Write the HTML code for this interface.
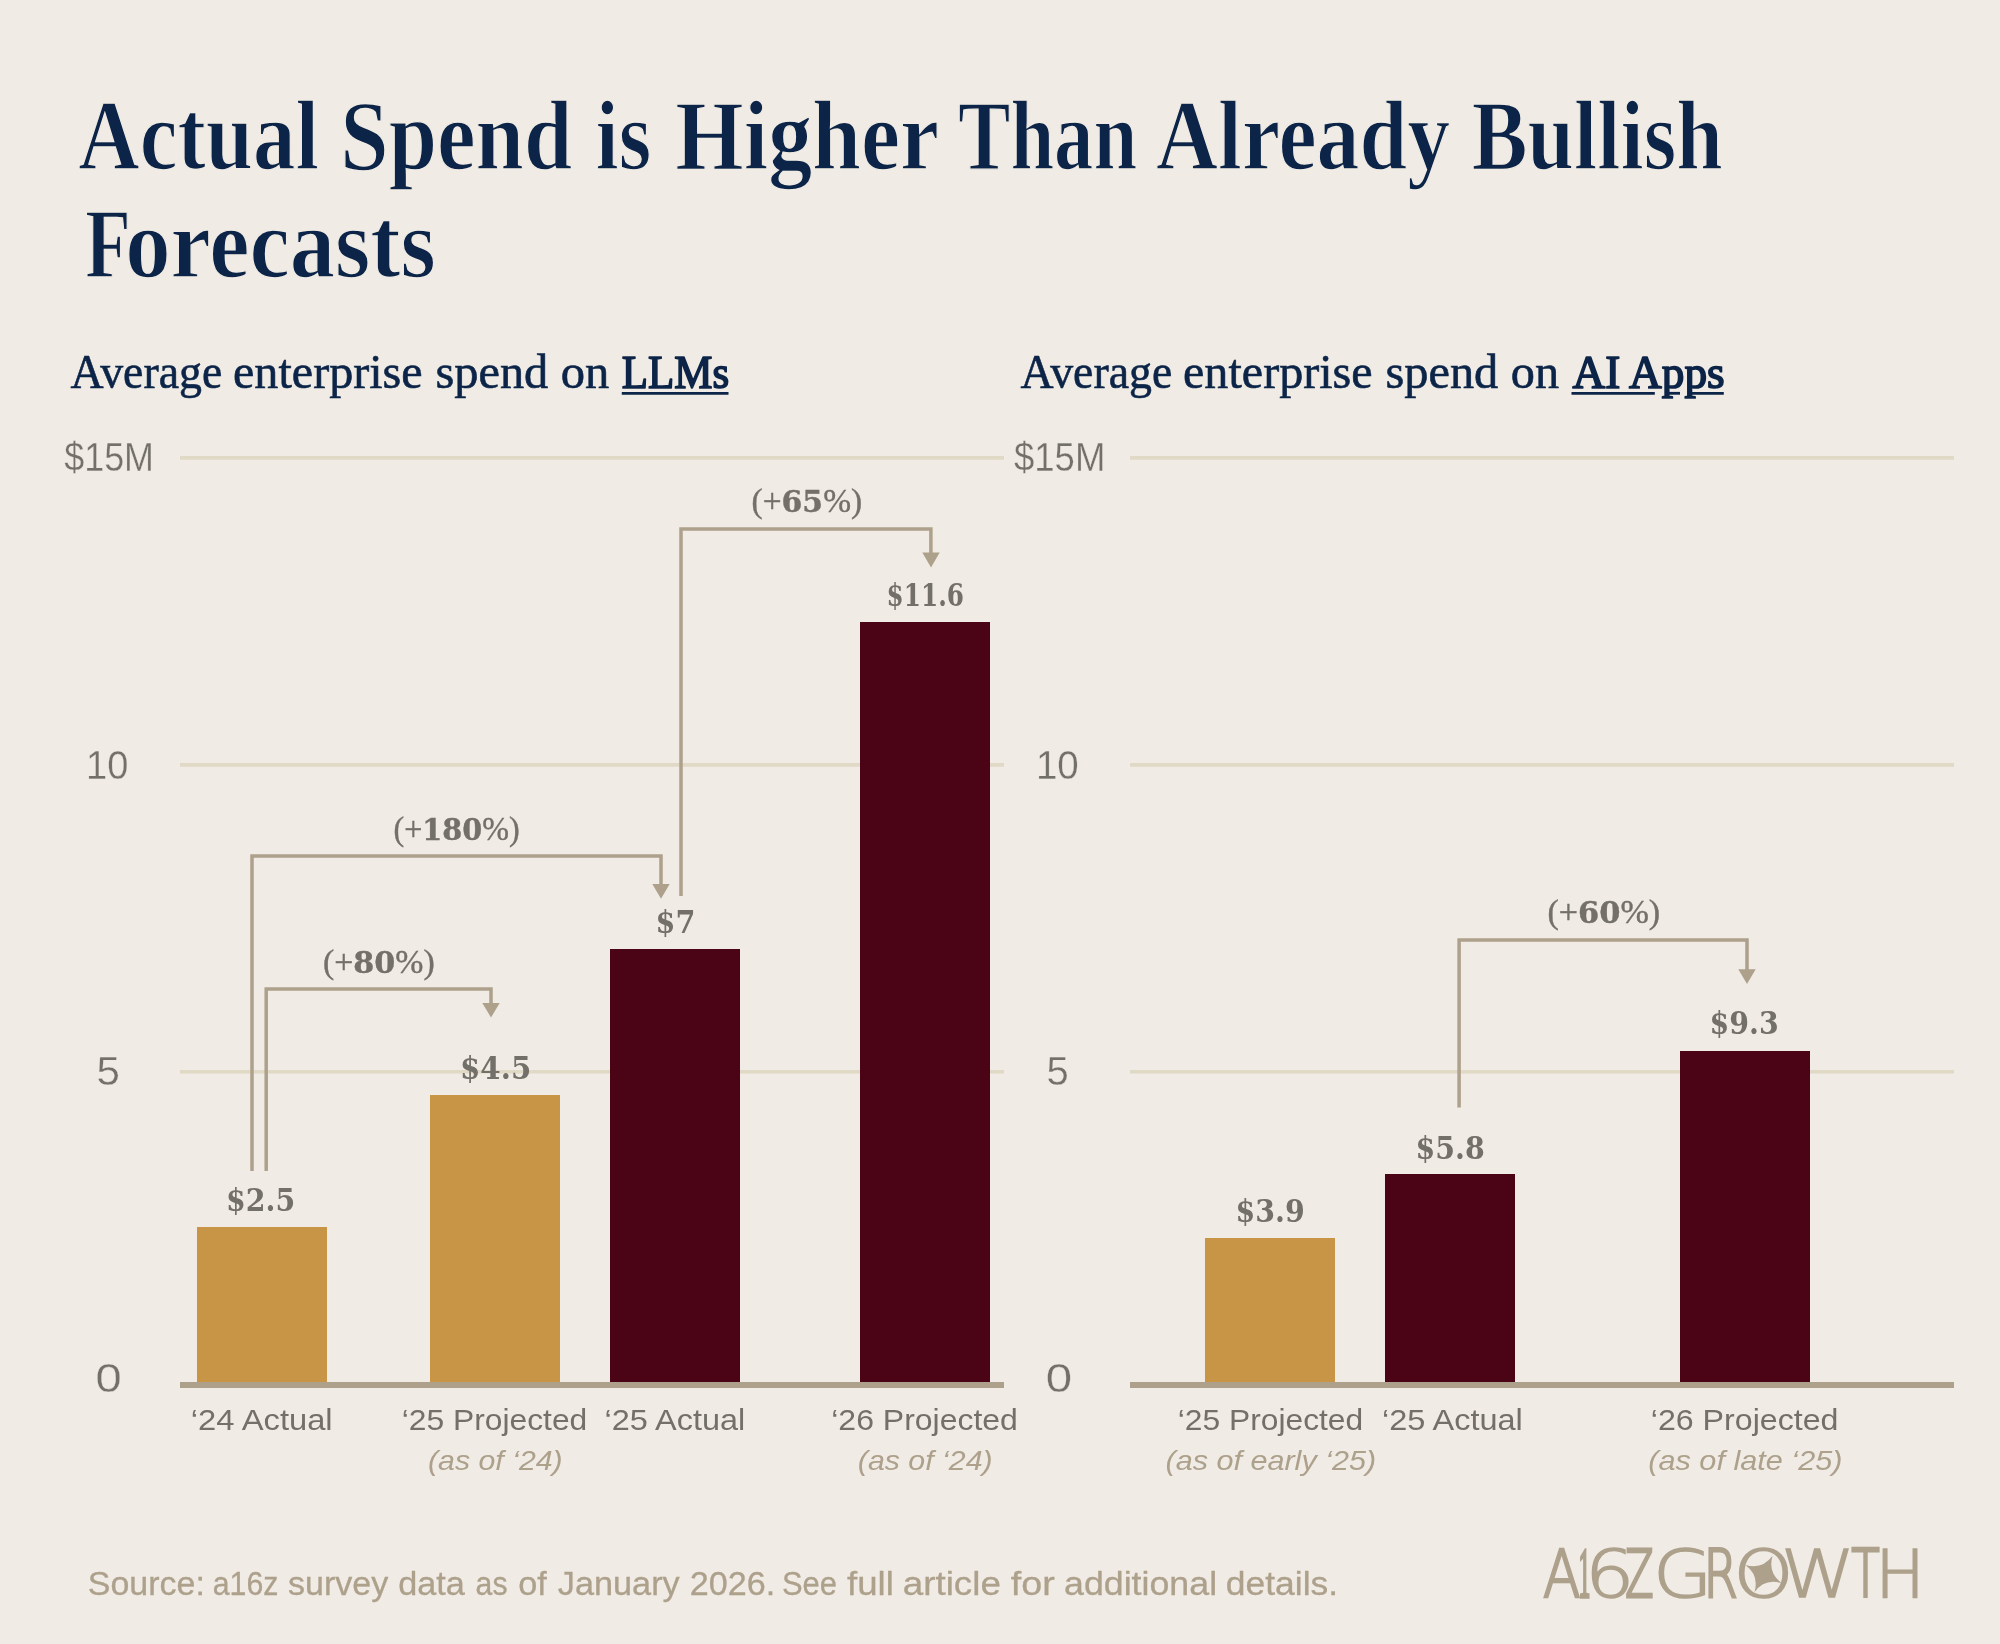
<!DOCTYPE html>
<html lang="en">
<head>
<meta charset="utf-8">
<title>Actual Spend is Higher Than Already Bullish Forecasts</title>
<style>
  html, body { margin: 0; padding: 0; background: #f0ebe4; }
  body { width: 2000px; height: 1644px; overflow: hidden; }
  svg { display: block; will-change: transform; }
  text { white-space: pre; }
  .title { font-family: "Liberation Serif", serif; font-weight: 700; font-size: 100px; fill: #0b2447; stroke: #f0ebe4; stroke-width: 1.4; }
  .sub { font-family: "Liberation Serif", serif; font-size: 47.5px; fill: #0b2447; stroke: #0b2447; stroke-width: 0.6; }
  .subb { font-family: "Liberation Serif", serif; font-size: 46.5px; fill: #0b2447; stroke: #0b2447; stroke-width: 1.7; stroke-linejoin: round; }
  .ytick { font-family: "Liberation Sans", sans-serif; font-size: 40px; fill: #737069; stroke: #f0ebe4; stroke-width: 0.3; }
  .val { font-family: "DejaVu Serif", "Liberation Serif", serif; font-weight: 700; font-size: 31px; fill: #737069; }
  .pct { font-family: "Liberation Serif", serif; font-size: 33px; fill: #737069; stroke: #737069; stroke-width: 0.4; }
  .xl { font-family: "Liberation Sans", sans-serif; font-size: 29.5px; fill: #737069; }
  .xs { font-family: "Liberation Sans", sans-serif; font-style: italic; font-size: 28px; fill: #ada18c; }
  .src { font-family: "Liberation Sans", sans-serif; font-size: 33px; fill: #ada18c; stroke: #ada18c; stroke-width: 0.3; }
  .logo { font-family: "DejaVu Sans", "Liberation Sans", sans-serif; font-weight: 200; font-size: 65.5px; fill: #ada18c; stroke: #ada18c; stroke-linejoin: miter; vector-effect: non-scaling-stroke; }
  .logo1 { font-family: "Liberation Serif", serif; font-size: 72px; fill: #ada18c; stroke: #ada18c; vector-effect: non-scaling-stroke; }
  .grid { stroke: #e0d9c6; stroke-width: 3.6; }
  .axis { stroke: #ada18c; stroke-width: 6; }
  .arr { stroke: #ada18c; stroke-width: 3.5; fill: none; }
  .head { fill: #ada18c; }
  .uline { stroke: #0b2447; stroke-width: 2.8; }
  .gold { fill: #c79545; }
  .maroon { fill: #4a0416; }
  .star { fill: #ada18c; }
</style>
</head>
<body>
<svg width="2000" height="1644">
  <rect x="0" y="0" width="2000" height="1644" fill="#f0ebe4"/>

  <!-- TITLE -->
  <g id="title">
    <text class="title" y="168.7"><tspan x="78.3" textLength="240.82" lengthAdjust="spacingAndGlyphs">Actual</tspan> <tspan x="340.31" textLength="231.93" lengthAdjust="spacingAndGlyphs">Spend</tspan> <tspan x="595.6" textLength="55.77" lengthAdjust="spacingAndGlyphs">is</tspan> <tspan x="675.31" textLength="262.23" lengthAdjust="spacingAndGlyphs">Higher</tspan> <tspan x="958.0" textLength="179.1" lengthAdjust="spacingAndGlyphs">Than</tspan> <tspan x="1156.0" textLength="294.21" lengthAdjust="spacingAndGlyphs">Already</tspan> <tspan x="1471.8" textLength="251.02" lengthAdjust="spacingAndGlyphs">Bullish</tspan></text>
    <text class="title" y="277.2"><tspan x="85.19" textLength="45.49" lengthAdjust="spacingAndGlyphs">F</tspan><tspan x="125.19" textLength="310.69" lengthAdjust="spacingAndGlyphs">orecasts</tspan></text>
  </g>

  <!-- SUBTITLES -->
  <g id="subtitles">
    <text class="sub" y="388.1"><tspan x="70.5" textLength="151.8" lengthAdjust="spacingAndGlyphs">Average</tspan> <tspan x="233.0" textLength="189.7" lengthAdjust="spacingAndGlyphs">enterprise</tspan> <tspan x="435.5" textLength="112.74" lengthAdjust="spacingAndGlyphs">spend</tspan> <tspan x="560.8" textLength="48.53" lengthAdjust="spacingAndGlyphs">on</tspan></text>
    <text class="subb" x="621.8" y="388.1" textLength="107.33" lengthAdjust="spacingAndGlyphs">LLMs</text>
    <text class="sub" y="388.1"><tspan x="1020.5" textLength="151.8" lengthAdjust="spacingAndGlyphs">Average</tspan> <tspan x="1183.0" textLength="189.7" lengthAdjust="spacingAndGlyphs">enterprise</tspan> <tspan x="1385.5" textLength="112.74" lengthAdjust="spacingAndGlyphs">spend</tspan> <tspan x="1510.8" textLength="48.22" lengthAdjust="spacingAndGlyphs">on</tspan></text>
    <text class="subb" x="1572.5" y="388.1" textLength="152.23" lengthAdjust="spacingAndGlyphs">AI Apps</text>
    <line class="uline" x1="621.8" x2="728.5" y1="393.3" y2="393.3"/>
    <line class="uline" x1="1571.5" x2="1654.8" y1="393.3" y2="393.3"/>
    <line class="uline" x1="1666" x2="1680" y1="393.3" y2="393.3"/>
    <line class="uline" x1="1691.6" x2="1723.8" y1="393.3" y2="393.3"/>
  </g>

  <!-- GRID LINES -->
  <g id="grid">
    <line class="grid" x1="180" x2="1004" y1="457.9" y2="457.9"/>
    <line class="grid" x1="180" x2="1004" y1="764.9" y2="764.9"/>
    <line class="grid" x1="180" x2="1004" y1="1071.8" y2="1071.8"/>
    <line class="grid" x1="1130" x2="1954" y1="457.9" y2="457.9"/>
    <line class="grid" x1="1130" x2="1954" y1="764.9" y2="764.9"/>
    <line class="grid" x1="1130" x2="1954" y1="1071.8" y2="1071.8"/>
  </g>

  <!-- Y TICKS -->
  <g id="yticks">
    <text class="ytick" x="64.25" y="471" textLength="89.75" lengthAdjust="spacingAndGlyphs">$15M</text>
    <text class="ytick" x="86.0" y="778.5" textLength="42.27" lengthAdjust="spacingAndGlyphs">10</text>
    <text class="ytick" x="96.5" y="1085.3" textLength="23.42" lengthAdjust="spacingAndGlyphs">5</text>
    <text class="ytick" x="95.45" y="1392" textLength="26.18" lengthAdjust="spacingAndGlyphs">0</text>
    <text class="ytick" x="1014.0" y="471" textLength="91.3" lengthAdjust="spacingAndGlyphs">$15M</text>
    <text class="ytick" x="1035.96" y="778.5" textLength="42.84" lengthAdjust="spacingAndGlyphs">10</text>
    <text class="ytick" x="1046.5" y="1085.3" textLength="22.25" lengthAdjust="spacingAndGlyphs">5</text>
    <text class="ytick" x="1045.69" y="1392" textLength="26.35" lengthAdjust="spacingAndGlyphs">0</text>
  </g>

  <!-- BARS: LLMs -->
  <g id="left-bars">
    <rect class="gold"   x="197" y="1227" width="130" height="157"/>
    <rect class="gold"   x="430" y="1095" width="130" height="289"/>
    <rect class="maroon" x="610" y="949"  width="130" height="435"/>
    <rect class="maroon" x="860" y="622"  width="130" height="762"/>
  </g>

  <!-- BARS: AI Apps -->
  <g id="right-bars">
    <rect class="gold"   x="1205" y="1238" width="130" height="146"/>
    <rect class="maroon" x="1385" y="1174" width="130" height="210"/>
    <rect class="maroon" x="1680" y="1051" width="130" height="333"/>
  </g>

  <!-- AXES -->
  <line class="axis" x1="180" x2="1004" y1="1385" y2="1385"/>
  <line class="axis" x1="1130" x2="1954" y1="1385" y2="1385"/>

  <!-- GROWTH ARROWS -->
  <g id="arrows">
    <path class="arr" d="M252 1171 V856 H661 V886"/>
    <path class="head" d="M652.3 883.9 H669.7 L661 898.7 Z"/>
    <path class="arr" d="M266.2 1171 V988.9 H491 V1005"/>
    <path class="head" d="M482.3 1003 H499.7 L491 1017.6 Z"/>
    <path class="arr" d="M681 896 V529 H930.9 V555"/>
    <path class="head" d="M922.3 552.5 H939.7 L931 567.4 Z"/>
    <path class="arr" d="M1459.1 1107.5 V940 H1747 V972"/>
    <path class="head" d="M1738.3 969.3 H1755.7 L1747 984.1 Z"/>
  </g>

  <!-- VALUE LABELS -->
  <g id="values">
    <text class="val" x="225.99" y="1211" textLength="69.35" lengthAdjust="spacingAndGlyphs">$2.5</text>
    <text class="val" x="460.0" y="1079" textLength="71.26" lengthAdjust="spacingAndGlyphs">$4.5</text>
    <text class="val" x="655.6" y="933" textLength="39.82" lengthAdjust="spacingAndGlyphs">$7</text>
    <text class="val" x="886.5" y="606" textLength="77.47" lengthAdjust="spacingAndGlyphs">$11.6</text>
    <text class="val" x="1235.5" y="1221.5" textLength="69.22" lengthAdjust="spacingAndGlyphs">$3.9</text>
    <text class="val" x="1415.5" y="1158.5" textLength="69.22" lengthAdjust="spacingAndGlyphs">$5.8</text>
    <text class="val" x="1709.5" y="1033.5" textLength="69.22" lengthAdjust="spacingAndGlyphs">$9.3</text>
  </g>

  <!-- PERCENT LABELS -->
  <g id="pcts">
    <text class="pct" x="751.5" y="511.8" textLength="110.69" lengthAdjust="spacingAndGlyphs">(+<tspan font-family="DejaVu Serif, Liberation Serif, serif" font-weight="700" font-size="29.5">65</tspan>%)</text>
    <text class="pct" x="393.5" y="840.2" textLength="126.14" lengthAdjust="spacingAndGlyphs">(+<tspan font-family="DejaVu Serif, Liberation Serif, serif" font-weight="700" font-size="29.5">180</tspan>%)</text>
    <text class="pct" x="323.0" y="972.8" textLength="111.71" lengthAdjust="spacingAndGlyphs">(+<tspan font-family="DejaVu Serif, Liberation Serif, serif" font-weight="700" font-size="29.5">80</tspan>%)</text>
    <text class="pct" x="1547.5" y="922.5" textLength="112.73" lengthAdjust="spacingAndGlyphs">(+<tspan font-family="DejaVu Serif, Liberation Serif, serif" font-weight="700" font-size="29.5">60</tspan>%)</text>
  </g>

  <!-- X LABELS -->
  <g id="xlabels">
    <text class="xl" x="190.74" y="1430" textLength="141.92" lengthAdjust="spacingAndGlyphs">‘24 Actual</text>
    <text class="xl" x="401.8" y="1430" textLength="185.49" lengthAdjust="spacingAndGlyphs">‘25 Projected</text>
    <text class="xs" x="428.0" y="1469.5" textLength="134.7" lengthAdjust="spacingAndGlyphs">(as of ‘24)</text>
    <text class="xl" x="604.49" y="1430" textLength="140.74" lengthAdjust="spacingAndGlyphs">‘25 Actual</text>
    <text class="xl" x="831.25" y="1430" textLength="186.65" lengthAdjust="spacingAndGlyphs">‘26 Projected</text>
    <text class="xs" x="857.8" y="1469.5" textLength="134.81" lengthAdjust="spacingAndGlyphs">(as of ‘24)</text>
    <text class="xl" x="1177.8" y="1430" textLength="185.38" lengthAdjust="spacingAndGlyphs">‘25 Projected</text>
    <text class="xs" x="1165.5" y="1469.5" textLength="210.65" lengthAdjust="spacingAndGlyphs">(as of early ‘25)</text>
    <text class="xl" x="1382.0" y="1430" textLength="140.83" lengthAdjust="spacingAndGlyphs">‘25 Actual</text>
    <text class="xl" x="1650.8" y="1430" textLength="187.62" lengthAdjust="spacingAndGlyphs">‘26 Projected</text>
    <text class="xs" x="1648.3" y="1469.5" textLength="194.15" lengthAdjust="spacingAndGlyphs">(as of late ‘25)</text>
  </g>

  <!-- FOOTER -->
  <g id="source">
    <text class="src" y="1595.3"><tspan x="87.75" textLength="117.1" lengthAdjust="spacingAndGlyphs">Source:</tspan> <tspan x="212.71" textLength="65.66" lengthAdjust="spacingAndGlyphs">a16z</tspan> <tspan x="288.0" textLength="100.24" lengthAdjust="spacingAndGlyphs">survey</tspan> <tspan x="398.19" textLength="66.65" lengthAdjust="spacingAndGlyphs">data</tspan> <tspan x="475.59" textLength="31.91" lengthAdjust="spacingAndGlyphs">as</tspan> <tspan x="518.3" textLength="28.55" lengthAdjust="spacingAndGlyphs">of</tspan> <tspan x="557.8" textLength="121.89" lengthAdjust="spacingAndGlyphs">January</tspan> <tspan x="689.79" textLength="85.52" lengthAdjust="spacingAndGlyphs">2026.</tspan> <tspan x="781.98" textLength="55.02" lengthAdjust="spacingAndGlyphs">See</tspan> <tspan x="847.0" textLength="46.83" lengthAdjust="spacingAndGlyphs">full</tspan> <tspan x="902.71" textLength="98.17" lengthAdjust="spacingAndGlyphs">article</tspan> <tspan x="1010.8" textLength="43.99" lengthAdjust="spacingAndGlyphs">for</tspan> <tspan x="1064.0" textLength="153.07" lengthAdjust="spacingAndGlyphs">additional</tspan> <tspan x="1225.8" textLength="112.33" lengthAdjust="spacingAndGlyphs">details.</tspan></text>
  </g>
  <g id="logo">
    <text class="logo" transform="translate(1543.00 1597.06) scale(0.8378 0.9993)" style="stroke-width:2.28">A</text>
    <text class="logo1" transform="translate(1578.50 1596.90) scale(0.3296 1.0051)" style="stroke-width:2.60">1</text>
    <text class="logo" transform="translate(1585.00 1597.40) scale(1.1875 1.0136)" style="stroke-width:1.60">6</text>
    <text class="logo" transform="translate(1625.20 1596.90) scale(0.6307 0.9927)" style="stroke-width:2.60">Z</text>
    <text class="logo" transform="translate(1653.00 1597.40) scale(1.1711 1.0136)" style="stroke-width:1.60">G</text>
    <text class="logo" transform="translate(1703.50 1596.90) scale(0.7525 0.9929)" style="stroke-width:2.59">R</text>
    <text class="logo" transform="translate(1733.50 1597.40) scale(1.1628 1.0136)" style="stroke-width:1.60">O</text>
    <text class="logo" transform="translate(1781.00 1597.40) scale(1.1408 1.0136)" style="stroke-width:1.60">W</text>
    <text class="logo" transform="translate(1851.50 1596.90) scale(0.7006 0.9927)" style="stroke-width:2.60">T</text>
    <text class="logo" transform="translate(1875.50 1597.35) scale(1.0000 1.0115)" style="stroke-width:1.70">H</text>
    <g transform="translate(1763.5 1574) rotate(26.6)">
      <path class="star" d="M20.3 0 Q2.97 2.97 0 20.3 Q-2.97 2.97 -20.3 0 Q-2.97 -2.97 0 -20.3 Q2.97 -2.97 20.3 0 Z"/>
    </g>
  </g>
</svg>
</body>
</html>
